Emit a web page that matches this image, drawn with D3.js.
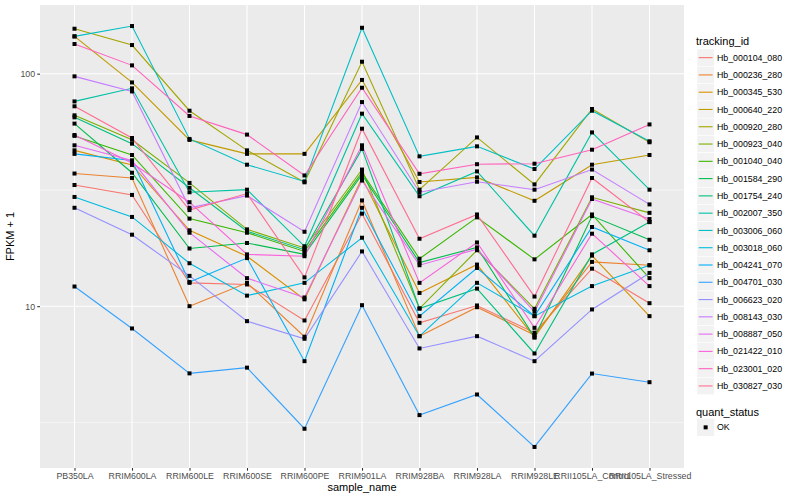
<!DOCTYPE html>
<html>
<head>
<meta charset="utf-8">
<script src="https://cdn.jsdelivr.net/npm/d3@7"></script>
<style>
  body { margin: 0; background: #fff; }
  text { font-family: "Liberation Sans", Arial, sans-serif; }
</style>
</head>
<body>
<svg id="chart" width="800" height="500"></svg>
<script>
// sample names on the x axis
var samples = ["PB350LA", "RRIM600LA", "RRIM600LE", "RRIM600SE", "RRIM600PE", "RRIM901LA",
  "RRIM928BA", "RRIM928LA", "RRIM928LE", "RRII105LA_Control", "RRII105LA_Stressed"];

var trackingIds = ["Hb_000104_080", "Hb_000236_280", "Hb_000345_530", "Hb_000640_220", "Hb_000920_280",
  "Hb_000923_040", "Hb_001040_040", "Hb_001584_290", "Hb_001754_240", "Hb_002007_350",
  "Hb_003006_060", "Hb_003018_060", "Hb_004241_070", "Hb_004701_030", "Hb_006623_020",
  "Hb_008143_030", "Hb_008887_050", "Hb_021422_010", "Hb_023001_020", "Hb_030827_030"];

// FPKM + 1, one array per gene, same order as samples
var hb_000104_080 = [33.2, 30.1, 12.6, 12.4, 8.68, 25.0, 8.48, 10.07, 7.69, 14.5, 10.3];
var hb_000236_280 = [37.2, 35.6, 10.0, 12.6, 7.39, 28.5, 7.43, 9.9, 7.52, 15.5, 15.0];
var hb_000345_530 = [46.8, 40.5, 21.2, 16.4, 10.7, 35.6, 11.4, 15.1, 7.34, 16.5, 9.06];
var hb_000640_220 = [144.7, 91.7, 51.9, 45.2, 45.2, 94.0, 34.2, 35.8, 28.4, 40.6, 44.7];
var hb_000920_280 = [156.1, 132.8, 69.3, 46.8, 34.1, 112.6, 31.7, 53.2, 33.4, 70.5, 50.7];
var hb_000923_040 = [66.2, 52.0, 33.9, 21.4, 17.8, 38.7, 9.77, 17.4, 9.74, 29.4, 25.2];
var hb_001040_040 = [54.0, 44.7, 23.8, 20.7, 17.2, 37.6, 16.0, 24.1, 15.9, 24.8, 13.2];
var hb_001584_290 = [61.0, 37.5, 17.7, 18.7, 16.7, 36.8, 15.4, 17.9, 7.34, 24.4, 19.3];
var hb_001754_240 = [64.9, 50.0, 32.3, 21.0, 17.5, 47.5, 9.77, 11.9, 6.26, 16.7, 23.0];
var hb_002007_350 = [76.0, 86.5, 30.9, 31.7, 18.1, 67.3, 29.7, 38.0, 20.1, 55.9, 31.7];
var hb_003006_060 = [144.7, 160.3, 52.4, 40.6, 34.4, 157.6, 44.1, 48.7, 38.9, 69.3, 51.2];
var hb_003018_060 = [29.5, 24.2, 15.3, 11.1, 12.6, 19.7, 7.43, 12.6, 9.06, 12.2, 15.0];
var hb_004241_070 = [45.2, 42.3, 12.7, 16.1, 5.80, 26.5, 9.06, 14.6, 9.06, 21.9, 17.4];
var hb_004701_030 = [12.15, 8.02, 5.14, 5.44, 2.97, 10.1, 3.40, 4.17, 2.48, 5.13, 4.71];
var hb_006623_020 = [26.5, 20.3, 13.5, 8.62, 7.24, 17.2, 6.58, 7.43, 5.80, 9.68, 13.9];
var hb_008143_030 = [97.4, 83.9, 26.5, 29.9, 20.9, 75.5, 30.9, 34.3, 31.7, 38.7, 27.4];
var hb_008887_050 = [49.2, 42.3, 20.7, 13.2, 10.9, 34.7, 15.0, 17.6, 9.46, 28.9, 23.7];
var hb_021422_010 = [54.5, 41.3, 28.0, 16.7, 16.4, 49.2, 12.6, 18.8, 8.07, 20.5, 12.2];
var hb_023001_020 = [134.2, 108.6, 65.8, 54.7, 36.5, 87.0, 37.1, 40.8, 41.0, 47.1, 60.5];
var hb_030827_030 = [72.4, 52.9, 25.9, 30.5, 13.3, 58.0, 19.5, 24.8, 11.0, 35.6, 23.0];

var seriesValues = [hb_000104_080, hb_000236_280, hb_000345_530, hb_000640_220, hb_000920_280,
  hb_000923_040, hb_001040_040, hb_001584_290, hb_001754_240, hb_002007_350,
  hb_003006_060, hb_003018_060, hb_004241_070, hb_004701_030, hb_006623_020,
  hb_008143_030, hb_008887_050, hb_021422_010, hb_023001_020, hb_030827_030];

var colours = ["#F8766D", "#EA8331", "#D89000", "#C09B00", "#A3A500", "#7CAE00", "#39B600", "#00BB4E",
  "#00BF7D", "#00C1A3", "#00BFC4", "#00BAE0", "#00B0F6", "#35A2FF", "#9590FF", "#C77CFF",
  "#E76BF3", "#FA62DB", "#FF62BC", "#FF6C91"];

var yMajor = [10, 100];
var yMinor = [Math.sqrt(10), Math.sqrt(1000)];

var svg = d3.select("#chart");
var panelLeft = 40, panelRight = 684, panelTop = 5, panelBottom = 468;

var x = d3.scalePoint().domain(samples).range([panelLeft, panelRight]).padding(0.6);

// log scale with ggplot-like 5% expansion in log space
var all = d3.merge(seriesValues);
var lo = Math.log10(d3.min(all)), hi = Math.log10(d3.max(all));
var pad = (hi - lo) * 0.05;
var y = d3.scaleLog().domain([Math.pow(10, lo - pad), Math.pow(10, hi + pad)])
  .range([panelBottom, panelTop]);

svg.append("rect").attr("x", panelLeft).attr("y", panelTop)
  .attr("width", panelRight - panelLeft).attr("height", panelBottom - panelTop).attr("fill", "#EBEBEB");

svg.selectAll(".minor")
  .data(yMinor.filter(function(d) { return d > y.domain()[0] && d < y.domain()[1]; }))
  .enter().append("line")
  .attr("x1", panelLeft).attr("x2", panelRight)
  .attr("y1", function(d) { return y(d); }).attr("y2", function(d) { return y(d); })
  .attr("stroke", "#fff").attr("stroke-width", 0.53);

svg.selectAll(".hmajor").data(yMajor).enter().append("line")
  .attr("x1", panelLeft).attr("x2", panelRight)
  .attr("y1", function(d) { return y(d); }).attr("y2", function(d) { return y(d); })
  .attr("stroke", "#fff").attr("stroke-width", 1.07);

svg.selectAll(".vmajor").data(samples).enter().append("line")
  .attr("x1", function(d) { return x(d); }).attr("x2", function(d) { return x(d); })
  .attr("y1", panelTop).attr("y2", panelBottom)
  .attr("stroke", "#fff").attr("stroke-width", 1.07);

// lines
var line = d3.line()
  .x(function(d, i) { return x(samples[i]); })
  .y(function(d) { return y(d); });

svg.selectAll(".series").data(seriesValues).enter().append("path")
  .attr("d", line)
  .attr("fill", "none")
  .attr("stroke", function(d, i) { return colours[i]; })
  .attr("stroke-width", 1.1);

// points
var square = d3.symbol().type(d3.symbolSquare).size(16)();
seriesValues.forEach(function(vals) {
  svg.append("g").selectAll("path").data(vals).enter().append("path")
    .attr("d", square)
    .attr("transform", function(d, i) { return "translate(" + x(samples[i]) + "," + y(d) + ")"; })
    .attr("fill", "#000");
});

// axes
var xAxis = svg.append("g").attr("transform", "translate(0," + panelBottom + ")")
  .call(d3.axisBottom(x).tickSize(2.74).tickPadding(2.4));
var yAxis = svg.append("g").attr("transform", "translate(" + panelLeft + ",0)")
  .call(d3.axisLeft(y).tickValues(yMajor).tickFormat(d3.format("d")).tickSize(2.74).tickPadding(2.2));

[xAxis, yAxis].forEach(function(g) {
  g.select(".domain").remove();
  g.selectAll("line").attr("stroke", "#333333").attr("stroke-width", 1.07);
  g.selectAll("text").attr("fill", "#4D4D4D").style("font-size", "8.8px")
    .style("font-family", '"Liberation Sans", Arial, sans-serif');
});

svg.append("text").attr("x", (panelLeft + panelRight) / 2).attr("y", 491)
  .attr("text-anchor", "middle").style("font-size", "11px").text("sample_name");

svg.append("text").attr("transform", "translate(14," + ((panelTop + panelBottom) / 2) + ") rotate(-90)")
  .attr("text-anchor", "middle").style("font-size", "11px").text("FPKM + 1");

// legend: tracking_id
var legX = 697, keySize = 17.28, legTop = 49;
svg.append("text").attr("x", 696).attr("y", 44.5).style("font-size", "11px").text("tracking_id");

var keys = svg.selectAll(".key").data(trackingIds).enter().append("g")
  .attr("transform", function(d, i) { return "translate(" + legX + "," + (legTop + i * keySize) + ")"; });
keys.append("rect").attr("width", keySize).attr("height", keySize)
  .attr("fill", "#F2F2F2").attr("stroke", "#fff").attr("stroke-width", 0.5);
keys.append("line").attr("x1", 1.7).attr("x2", keySize - 1.7)
  .attr("y1", keySize / 2).attr("y2", keySize / 2)
  .attr("stroke", function(d, i) { return colours[i]; }).attr("stroke-width", 1.1);
keys.append("text").attr("x", keySize + 2.7).attr("y", keySize / 2 + 3.1)
  .style("font-size", "8.8px").attr("fill", "#000").text(function(d) { return d; });

// legend: quant_status
svg.append("text").attr("x", 696).attr("y", 415.5).style("font-size", "11px").text("quant_status");
var ok = svg.append("g").attr("transform", "translate(" + legX + ",418.7)");
ok.append("rect").attr("width", keySize).attr("height", keySize).attr("fill", "#F2F2F2");
ok.append("path").attr("d", square).attr("transform", "translate(" + keySize / 2 + "," + keySize / 2 + ")");
ok.append("text").attr("x", keySize + 2.7).attr("y", keySize / 2 + 3.1)
  .style("font-size", "8.8px").text("OK");
</script>
</body>
</html>
